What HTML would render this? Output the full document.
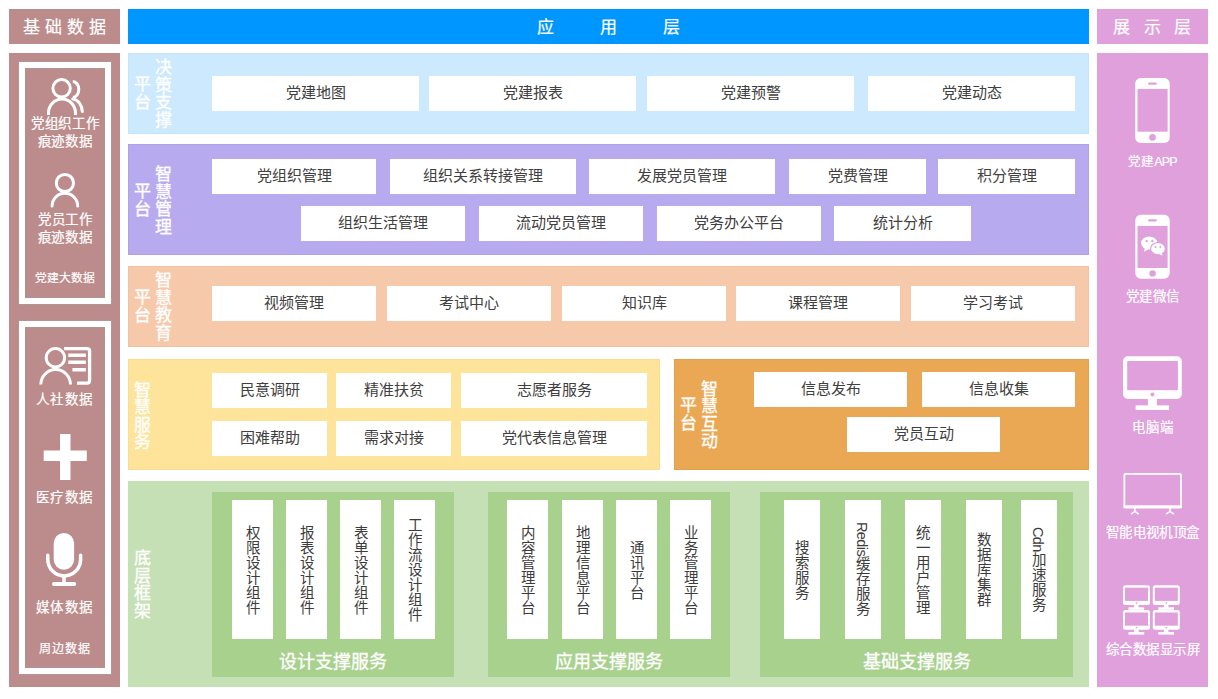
<!DOCTYPE html>
<html lang="zh-CN">
<head>
<meta charset="utf-8">
<style>
*{margin:0;padding:0;box-sizing:border-box}
html,body{width:1218px;height:699px;overflow:hidden;background:#fff}
body{position:relative;font-family:"Liberation Sans",sans-serif;}
.a{position:absolute}
.hd{position:absolute;color:#fff;-webkit-text-stroke:0.2px #fff;font-size:17px;line-height:37px;text-align:center;white-space:nowrap}
.b{position:absolute;background:#fff;color:#404040;font-size:15px;display:flex;align-items:center;justify-content:center;white-space:nowrap;padding-bottom:4px}
.v{position:absolute;background:#fff;color:#3c3c3c;font-size:14.5px;display:flex;align-items:center;justify-content:center}
.v span{writing-mode:vertical-rl;line-height:1;position:relative;left:-1.6px}
.lt{font-style:normal;letter-spacing:-0.6px}
.lbl{position:absolute;color:#fff;-webkit-text-stroke:0.3px #fff;font-size:17px;line-height:17.5px;width:17px;text-align:center;word-break:break-all}
.gl{position:absolute;color:#fff;-webkit-text-stroke:0.3px #fff;font-size:18px;line-height:20px;text-align:center;white-space:nowrap}
.frame{position:absolute;border:6px solid #fff;box-shadow:inset 0 0 1px 0.6px #a39a9a, 0 0 1px 0.3px #b0a5a5}
.it{position:absolute;color:#fff;-webkit-text-stroke:0.2px #fff;font-size:13.5px;line-height:18px;text-align:center;white-space:nowrap}
</style>
</head>
<body>
<!-- headers -->
<div class="hd" style="left:9px;top:9px;width:111px;height:35px;background:#bc8c8c;letter-spacing:5px;text-indent:5px">基础数据</div>
<div class="hd" style="left:128px;top:9px;width:961px;height:35px;background:#0096ff;">
  <span class="a" style="left:409px">应</span><span class="a" style="left:472px">用</span><span class="a" style="left:535px">层</span>
</div>
<div class="hd" style="left:1097px;top:9px;width:111px;height:35px;background:#e0a0dc;letter-spacing:13.5px;text-indent:13px">展示层</div>

<!-- left column -->
<div class="a" style="left:9px;top:53px;width:111px;height:634px;background:#bc8c8c"></div>
<div class="frame" style="left:19px;top:62px;width:92px;height:241.5px"></div>
<div class="frame" style="left:19px;top:321px;width:92px;height:353px"></div>

<!-- right column -->
<div class="a" style="left:1097px;top:53px;width:111px;height:634px;background:#e0a0dc"></div>

<!-- row 1 -->
<div class="a" style="left:128px;top:53px;width:961px;height:81px;background:#cce9fd;box-shadow:inset 0 0 0 1px #c3e4fb"></div>
<div class="lbl" style="left:133.5px;top:76px">平台</div>
<div class="lbl" style="left:154.5px;top:59px">决策支撑</div>
<div class="b" style="left:212px;top:76px;width:207px;height:35px">党建地图</div>
<div class="b" style="left:429px;top:76px;width:207px;height:35px">党建报表</div>
<div class="b" style="left:647px;top:76px;width:207px;height:35px">党建预警</div>
<div class="b" style="left:868px;top:76px;width:207px;height:35px">党建动态</div>

<!-- row 2 -->
<div class="a" style="left:128px;top:144px;width:961px;height:111px;background:#b8aaee;box-shadow:inset 0 0 0 1px #b0a1ea"></div>
<div class="lbl" style="left:133.5px;top:183px">平台</div>
<div class="lbl" style="left:154.5px;top:166px">智慧管理</div>
<div class="b" style="left:212px;top:159px;width:164px;height:35px">党组织管理</div>
<div class="b" style="left:390px;top:159px;width:186px;height:35px">组织关系转接管理</div>
<div class="b" style="left:589px;top:159px;width:186px;height:35px">发展党员管理</div>
<div class="b" style="left:789px;top:159px;width:137px;height:35px">党费管理</div>
<div class="b" style="left:938px;top:159px;width:137px;height:35px">积分管理</div>
<div class="b" style="left:301px;top:206px;width:164px;height:35px">组织生活管理</div>
<div class="b" style="left:479px;top:206px;width:164px;height:35px">流动党员管理</div>
<div class="b" style="left:657px;top:206px;width:164px;height:35px">党务办公平台</div>
<div class="b" style="left:834px;top:206px;width:137px;height:35px">统计分析</div>

<!-- row 3 -->
<div class="a" style="left:128px;top:266px;width:961px;height:81px;background:#f7c9ab;box-shadow:inset 0 0 0 1px #f3c1a2"></div>
<div class="lbl" style="left:133.5px;top:289px">平台</div>
<div class="lbl" style="left:154.5px;top:272px">智慧教育</div>
<div class="b" style="left:212px;top:286px;width:164px;height:35px">视频管理</div>
<div class="b" style="left:387px;top:286px;width:164px;height:35px">考试中心</div>
<div class="b" style="left:562px;top:286px;width:164px;height:35px">知识库</div>
<div class="b" style="left:736px;top:286px;width:164px;height:35px">课程管理</div>
<div class="b" style="left:911px;top:286px;width:164px;height:35px">学习考试</div>

<!-- row 4 -->
<div class="a" style="left:128px;top:359px;width:532px;height:111px;background:#fee39b;box-shadow:inset 0 0 0 1px #fbdc8e"></div>
<div class="lbl" style="left:133.5px;top:381.5px">智慧服务</div>
<div class="b" style="left:212px;top:373px;width:115px;height:35px">民意调研</div>
<div class="b" style="left:336px;top:373px;width:115px;height:35px">精准扶贫</div>
<div class="b" style="left:461px;top:373px;width:186px;height:35px">志愿者服务</div>
<div class="b" style="left:212px;top:421px;width:115px;height:35px">困难帮助</div>
<div class="b" style="left:336px;top:421px;width:115px;height:35px">需求对接</div>
<div class="b" style="left:461px;top:421px;width:186px;height:35px">党代表信息管理</div>

<div class="a" style="left:674px;top:359px;width:415px;height:111px;background:#eba854;box-shadow:inset 0 0 0 1px #e7a04a"></div>
<div class="lbl" style="left:680px;top:397px">平台</div>
<div class="lbl" style="left:701px;top:380.5px">智慧互动</div>
<div class="b" style="left:754px;top:372px;width:153px;height:35px">信息发布</div>
<div class="b" style="left:922px;top:372px;width:153px;height:35px">信息收集</div>
<div class="b" style="left:847px;top:417px;width:153px;height:35px">党员互动</div>

<!-- row 5 -->
<div class="a" style="left:128px;top:481px;width:961px;height:206px;background:#c5e0b4"></div>
<div class="lbl" style="left:133.5px;top:550px">底层框架</div>

<div class="a" style="left:212px;top:492px;width:242px;height:185px;background:#a9d18e"></div>
<div class="v" style="left:232px;top:500px;width:41px;height:139px"><span>权限设计组件</span></div>
<div class="v" style="left:286px;top:500px;width:41px;height:139px"><span>报表设计组件</span></div>
<div class="v" style="left:340px;top:500px;width:41px;height:139px"><span>表单设计组件</span></div>
<div class="v" style="left:394px;top:500px;width:41px;height:139px"><span>工作流设计组件</span></div>
<div class="gl" style="left:212px;top:652px;width:242px">设计支撑服务</div>

<div class="a" style="left:488px;top:492px;width:242px;height:185px;background:#a9d18e"></div>
<div class="v" style="left:507px;top:500px;width:41px;height:139px"><span>内容管理平台</span></div>
<div class="v" style="left:562px;top:500px;width:41px;height:139px"><span>地理信息平台</span></div>
<div class="v" style="left:616px;top:500px;width:41px;height:139px"><span>通讯平台</span></div>
<div class="v" style="left:670px;top:500px;width:41px;height:139px"><span>业务管理平台</span></div>
<div class="gl" style="left:488px;top:652px;width:242px">应用支撑服务</div>

<div class="a" style="left:760px;top:492px;width:313px;height:185px;background:#a9d18e"></div>
<div class="v" style="left:784px;top:500px;width:36px;height:139px"><span>搜索服务</span></div>
<div class="v" style="left:845px;top:500px;width:36px;height:139px"><span><i class="lt">Redis</i>缓存服务</span></div>
<div class="v" style="left:905px;top:500px;width:36px;height:139px"><span>统一用户管理</span></div>
<div class="v" style="left:966px;top:500px;width:36px;height:139px"><span>数据库集群</span></div>
<div class="v" style="left:1021px;top:500px;width:36px;height:139px"><span><i class="lt">Cdn</i>加速服务</span></div>
<div class="gl" style="left:760px;top:652px;width:313px">基础支撑服务</div>


<!-- left texts -->
<div class="it" style="left:19px;top:115px;width:92px;letter-spacing:0.6px;text-indent:0.6px">党组织工作<br>痕迹数据</div>
<div class="it" style="left:19px;top:210.5px;width:92px;letter-spacing:0.7px;text-indent:0.7px">党员工作<br>痕迹数据</div>
<div class="it" style="left:19px;top:268.5px;width:92px;font-size:11.8px">党建大数据</div>
<div class="it" style="left:18px;top:390.5px;width:92px;letter-spacing:1.3px;text-indent:1.3px">人社数据</div>
<div class="it" style="left:18px;top:489px;width:92px;letter-spacing:1.3px;text-indent:1.3px">医疗数据</div>
<div class="it" style="left:18px;top:599px;width:92px;letter-spacing:1.2px;text-indent:1.2px">媒体数据</div>
<div class="it" style="left:18.5px;top:639.5px;width:92px;font-size:12px;letter-spacing:0.8px;text-indent:0.8px">周边数据</div>
<!-- right texts -->
<div class="it" style="left:1097px;top:152.5px;width:111px;font-size:12.5px">党建<i class="lt" style="letter-spacing:-0.9px">APP</i></div>
<div class="it" style="left:1097px;top:287.5px;width:111px;letter-spacing:0.2px;text-indent:0.2px">党建微信</div>
<div class="it" style="left:1097px;top:419px;width:111px;letter-spacing:0.9px;text-indent:0.9px">电脑端</div>
<div class="it" style="left:1097px;top:524px;width:111px;letter-spacing:0.45px;text-indent:0.45px">智能电视机顶盒</div>
<div class="it" style="left:1097px;top:640.5px;width:111px;letter-spacing:0.5px;text-indent:0.5px">综合数据显示屏</div>

<svg class="a" style="left:0;top:0" width="1218" height="699" viewBox="0 0 1218 699">
 <g fill="none" stroke="#fff" stroke-width="3">
  <!-- group icon -->
  <circle cx="61.6" cy="88.3" r="8.7"/>
  <path d="M48.5,115 V113 A13.5,14 0 0 1 75.5,113 V115" />
  <path d="M72.8,81.4 A6,8 0 0 1 72.8,97.4" />
  <path d="M72.8,99 A10.5,13 0 0 1 82.3,111.5" stroke-linecap="round"/>
  <!-- person -->
  <circle cx="64.9" cy="183" r="8.6"/>
  <path d="M52.1,206 A12.8,12.8 0 0 1 77.7,206" stroke-linecap="round"/>
  <!-- person + doc -->
  <circle cx="55.4" cy="357.8" r="9.2"/>
  <path d="M40.8,384.6 A14.8,15 0 0 1 70.5,384.6"/>
  <path d="M64.1,348.6 H87 Q89.6,348.6 89.6,351 V380.6 Q89.6,383.2 87,383.2 H77" stroke-width="3.3"/>
  <path d="M68.3,355.3 H85.8 M68.3,362.2 H85.8 M72.4,369.7 H85.8" stroke-width="3.4"/>
  <!-- mic -->
  <path d="M47.8,555.3 V559.5 A16.4,16.4 0 0 0 80.6,559.5 V555.3" stroke-width="3.5" stroke-linecap="round"/>
  <path d="M64,576 V583" stroke-width="3.5"/>
  <path d="M54,583.9 H74.2" stroke-width="4" stroke-linecap="round"/>
 </g>
 <g fill="#fff">
  <!-- cross -->
  <rect x="60" y="434" width="10.5" height="46"/>
  <rect x="43.7" y="450.5" width="43.1" height="10.5"/>
  <!-- mic capsule -->
  <rect x="53.7" y="532.9" width="20.4" height="36.8" rx="10.2"/>
 </g>
 <!-- phones -->
 <g>
  <rect x="1135.2" y="78.1" width="34.5" height="64.8" rx="5.5" fill="#fff"/>
  <rect x="1137.5" y="88.9" width="30.1" height="42.8" fill="#e0a0dc"/>
  <rect x="1148.1" y="82.6" width="8.7" height="2.2" rx="1.1" fill="#e0a0dc"/>
  <circle cx="1152.5" cy="137.4" r="3.3" fill="#e0a0dc"/>

  <rect x="1135.3" y="214.8" width="34.4" height="63.9" rx="5.5" fill="#fff"/>
  <rect x="1137.5" y="225.9" width="30.1" height="42.1" fill="#e0a0dc"/>
  <rect x="1148.1" y="219.3" width="8.7" height="2.2" rx="1.1" fill="#e0a0dc"/>
  <circle cx="1152.6" cy="273.4" r="3.2" fill="#e0a0dc"/>
  <!-- wechat -->
  <ellipse cx="1149.2" cy="243.1" rx="8.2" ry="6.5" fill="#fff"/>
  <path d="M1144,251.8 L1145,247 L1148.5,249 Z" fill="#fff"/>
  <circle cx="1146.6" cy="241.1" r="1.2" fill="#e0a0dc"/>
  <circle cx="1152.3" cy="241.1" r="1.2" fill="#e0a0dc"/>
  <ellipse cx="1158" cy="248.7" rx="7.4" ry="6.2" fill="#fff" stroke="#e0a0dc" stroke-width="1.2"/>
  <path d="M1162.4,255.8 L1162,252.5 L1159,254 Z" fill="#fff"/>
  <circle cx="1155.5" cy="247" r="1.0" fill="#e0a0dc"/>
  <circle cx="1160.3" cy="247" r="1.0" fill="#e0a0dc"/>

  <!-- monitor -->
  <rect x="1123" y="356.2" width="58.8" height="42.8" rx="5" fill="#fff"/>
  <rect x="1127.2" y="361" width="50.7" height="29.2" fill="#e0a0dc"/>
  <circle cx="1152.4" cy="394.5" r="2" fill="#e0a0dc"/>
  <rect x="1147.9" y="398" width="9" height="8" fill="#fff"/>
  <rect x="1135.6" y="405.4" width="33.5" height="4.6" fill="#fff"/>

  <!-- tv -->
  <rect x="1124.4" y="473.9" width="56.6" height="33.5" rx="1.2" fill="none" stroke="#fff" stroke-width="1.8"/>
  <rect x="1123.5" y="505.3" width="58.3" height="3" fill="#fff"/>
  <path d="M1134.9,508 V511.4 L1131,514.2 M1134.9,511.4 L1138.8,514.2 M1170,508 V511.4 L1166.1,514.2 M1170,511.4 L1173.9,514.2" stroke="#fff" stroke-width="1.5" fill="none"/>
 </g>
 <g id="mm">
  <rect x="1123" y="585.2" width="27" height="19.7" rx="2.5" fill="#fff"/>
  <rect x="1125" y="587.7" width="23" height="13.2" fill="#e0a0dc"/>
  <circle cx="1136.5" cy="602.8" r="0.9" fill="#e0a0dc"/>
  <rect x="1134.1" y="604" width="4.5" height="4" fill="#fff"/>
  <rect x="1128.5" y="607.3" width="15.7" height="2.5" fill="#fff"/>
 </g>
 <use href="#mm" x="29.8" y="0"/>
 <use href="#mm" x="0" y="24.8"/>
 <use href="#mm" x="29.8" y="24.8"/>
</svg>
</body>
</html>
